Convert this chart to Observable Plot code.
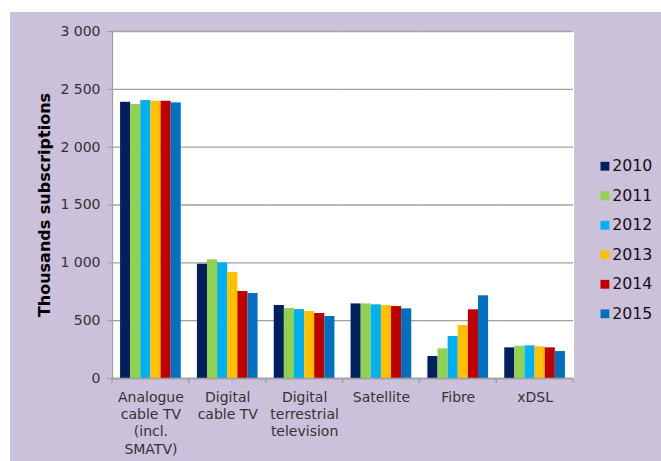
<!DOCTYPE html>
<html><head><meta charset="utf-8">
<script src="https://cdn.jsdelivr.net/npm/d3@7"></script>
<script src="https://cdn.jsdelivr.net/npm/@observablehq/plot@0.6"></script>
<style>
html,body{margin:0;padding:0;background:#fff;}
#bg{position:absolute;left:10px;top:12px;width:651px;height:449px;background:#ccc1da;}
#chart{position:absolute;left:0;top:0;}
#legend{position:absolute;left:600px;top:150px;}
</style></head><body>
<div id="bg"></div><div id="chart"></div><div id="legend"></div>
<script>
const categories = ["Analogue cable TV (incl. SMATV)", "Digital cable TV", "Digital terrestrial television", "Satellite", "Fibre", "xDSL"];
const categoryLabels = ["Analogue\ncable TV\n(incl.\nSMATV)", "Digital\ncable TV", "Digital\nterrestrial\ntelevision", "Satellite", "Fibre", "xDSL"];
const years = ["2010", "2011", "2012", "2013", "2014", "2015"];
const yearColors = ["#002060", "#92d050", "#00b0f0", "#ffc000", "#c00000", "#0070c0"];
const v2010 = [2388, 988, 631, 645, 190, 265];
const v2011 = [2368, 1026, 605, 645, 256, 279];
const v2012 = [2403, 1000, 596, 637, 363, 282];
const v2013 = [2397, 916, 579, 631, 458, 274];
const v2014 = [2397, 752, 562, 622, 594, 265];
const v2015 = [2383, 735, 536, 602, 715, 233];
const yTicks = [0, 500, 1000, 1500, 2000, 2500, 3000];
const yLabel = "Thousands subscriptions";

const series = [v2010, v2011, v2012, v2013, v2014, v2015];
const table = [];
categories.forEach((c, j) => years.forEach((yr, i) => table.push({category: c, year: yr, value: series[i][j]})));

const fmt = d3.formatLocale({thousands: " ", grouping: [3], decimal: ",", currency: ["", ""]}).format(",");
const gray = "#a0a0a0";
const font = "DejaVu Sans";

function boundaryTicks(index, scales, values, dimensions) {
  const r = scales.x && scales.x.range ? scales.x.range() : [dimensions.marginLeft, dimensions.width - dimensions.marginRight];
  const y0 = scales.y(0);
  const g = d3.create("svg:g");
  for (const xx of r) {
    g.append("line").attr("x1", xx).attr("x2", xx).attr("y1", y0).attr("y2", y0 + 5)
      .attr("stroke", gray).attr("stroke-width", 1.3);
  }
  return g.node();
}

const chart = Plot.plot({
  width: 661, height: 461,
  marginLeft: 112, marginRight: 88, marginTop: 31, marginBottom: 83,
  style: {fontFamily: font, fontSize: "14px", color: "#333", background: "transparent", overflow: "visible"},
  fx: {domain: categories, padding: 0, round: false, axis: null},
  x: {domain: years, paddingInner: 0, paddingOuter: 0.8, round: false, axis: null},
  y: {domain: [0, 3000], axis: null},
  color: {domain: years, range: yearColors},
  marks: [
    Plot.frame({fill: "white", stroke: null, insetLeft: -0.6, insetRight: -0.6}),
    Plot.gridY(yTicks, {stroke: gray, strokeOpacity: 1, strokeWidth: 1.3}),
    Plot.barY(table, {fx: "category", x: "year", y: "value", fill: "year", inset: 0}),
    Plot.ruleY([0], {stroke: gray, strokeWidth: 1.3}),
    Plot.frame({anchor: "left", facetAnchor: "left", stroke: gray, strokeWidth: 1.3}),
    boundaryTicks,
    Plot.axisY(yTicks, {anchor: "left", tickSize: 5, tickPadding: 7, tickFormat: fmt, stroke: gray, label: null, fontSize: 14}),
    Plot.axisFx({anchor: "bottom", tickSize: 0, tickPadding: 11, tickFormat: d => categoryLabels[categories.indexOf(d)], lineHeight: 1.236, label: null, fontSize: 14}),
    Plot.text([yLabel], {frameAnchor: "left", dx: -68, rotate: -90, textAnchor: "middle", fontWeight: "bold", fontSize: 16, fill: "#000", facetAnchor: "left"})
  ]
});
document.getElementById("chart").append(chart);

const legend = Plot.plot({
  width: 62, height: 181, margin: 0, marginTop: 15, marginBottom: 15,
  style: {fontFamily: font, fontSize: "16px", color: "#111", background: "transparent", overflow: "visible"},
  x: {axis: null},
  y: {type: "point", domain: years, padding: 0, axis: null},
  color: {domain: years, range: yearColors},
  marks: [
    Plot.dot(years, {y: d => d, fill: d => d, symbol: "square", r: 5.08, frameAnchor: "left", dx: 4.5}),
    Plot.text(years, {y: d => d, text: d => d, frameAnchor: "left", dx: 12, textAnchor: "start", fontSize: 16, fill: "#111"})
  ]
});
document.getElementById("legend").append(legend);
</script>
</body></html>
